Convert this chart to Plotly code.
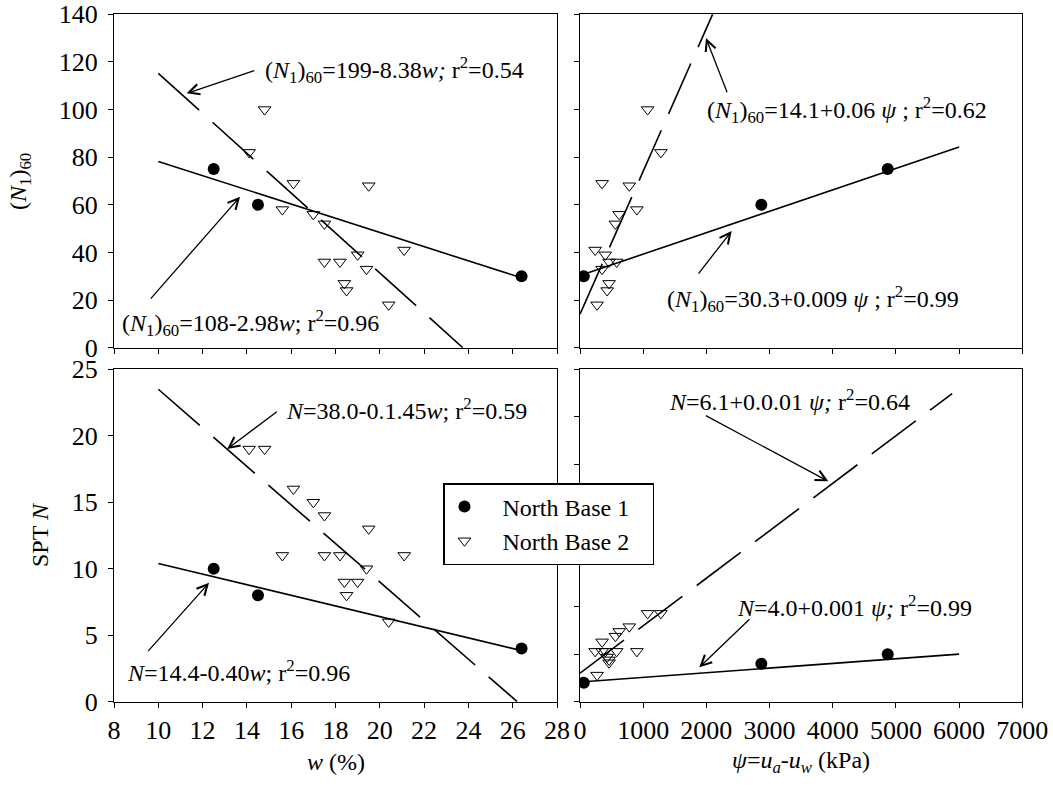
import numpy as np
import plotly.graph_objects as go

# -----------------------------------------------------------------------------
# Data
# -----------------------------------------------------------------------------

# North Base 1
w_nb1 = [12.5, 14.5, 26.4]
n160_nb1 = [75, 60, 30]
n_nb1 = [10, 8, 4]
psi_nb1 = [4870, 2870, 60]
n_psi_nb1 = [5.0, 4.0, 2.0]

# North Base 2
w_nb2 = [14.8, 14.1, 16.1, 19.5, 15.6, 17.0, 17.5, 21.1, 19.0, 17.5, 18.2, 19.4, 18.4, 18.5, 20.4]
n160_nb2 = [100, 82, 69, 68, 58, 56, 52, 41, 39, 36, 36, 33, 27, 24, 18]
n_nb2 = [19, 19, 16, 13, 11, 15, 14, 11, 9, 11, 11, 10, 9, 8, 6]
psi_nb2 = [1070, 1280, 350, 780, 900, 620, 560, 240, 400, 460, 580, 350, 460, 430, 270]
n_psi_nb2 = [9.3, 9.3, 6.3, 7.9, 5.3, 7.4, 6.9, 5.3, 5.3, 4.4, 5.3, 5.3, 4.1, 4.7, 2.8]

# regression lines: intercept, slope, x-start, x-end
fit_w_n160_nb1 = [108, -2.98, 10, 26.4]
fit_w_n160_nb2 = [199, -8.38, 10, 23.75]
fit_psi_n160_nb1 = [30.3, 0.009, 60, 6000]
fit_psi_n160_nb2 = [14.1, 0.06, 0, 2100]
fit_w_n_nb1 = [14.4, -0.40, 10, 26.4]
fit_w_n_nb2 = [38.0, -1.45, 10, 26.2]
fit_psi_n_nb1 = [2.07, 0.00049, 60, 6000]
fit_psi_n_nb2 = [3.0, 0.005, 0, 5890]

x_ticks_w = list(range(8, 29, 2))
x_ticks_psi = list(range(0, 7001, 1000))

FONT = "Liberation Serif"
FS = 24
TICK_FS = 26
W, H = 1053, 792


def px(x):
    return x / W


def py(y):
    return 1 - y / H


# -----------------------------------------------------------------------------
# Figure
# -----------------------------------------------------------------------------

fig = go.Figure()

circle = dict(symbol="circle", size=12, color="black")
tri = dict(symbol="triangle-down-open", size=11, color="black", line=dict(width=1, color="black"))

panels = [
    ("x", "y", w_nb1, n160_nb1, w_nb2, n160_nb2, fit_w_n160_nb1, fit_w_n160_nb2),
    ("x2", "y2", psi_nb1, n160_nb1, psi_nb2, n160_nb2, fit_psi_n160_nb1, fit_psi_n160_nb2),
    ("x3", "y3", w_nb1, n_nb1, w_nb2, n_nb2, fit_w_n_nb1, fit_w_n_nb2),
    ("x4", "y4", psi_nb1, n_psi_nb1, psi_nb2, n_psi_nb2, fit_psi_n_nb1, fit_psi_n_nb2),
]

for i, (xa, ya, x1, y1, x2, y2, f1, f2) in enumerate(panels):
    for f, dash in ((f1, "solid"), (f2, "55px,18px")):
        xs = np.array([f[2], f[3]])
        fig.add_trace(go.Scatter(x=xs, y=f[0] + f[1] * xs, mode="lines", xaxis=xa, yaxis=ya,
                                 line=dict(color="black", width=1.6, dash=dash),
                                 showlegend=False, hoverinfo="skip"))
    fig.add_trace(go.Scatter(x=x2, y=y2, mode="markers", xaxis=xa, yaxis=ya, marker=tri,
                             name="\u00a0\u00a0\u00a0North Base 2\u00a0\u00a0\u00a0",
                             showlegend=(i == 2), legendrank=2))
    fig.add_trace(go.Scatter(x=x1, y=y1, mode="markers", xaxis=xa, yaxis=ya, marker=circle,
                             name="\u00a0\u00a0\u00a0North Base 1\u00a0\u00a0\u00a0",
                             showlegend=(i == 2), legendrank=1))

axis_common = dict(showline=True, linecolor="black", linewidth=1, mirror=True,
                   ticks="outside", ticklen=5, tickcolor="black", showgrid=False,
                   zeroline=False, automargin=False, ticklabeloverflow="allow",
                   tickfont=dict(family=FONT, size=TICK_FS, color="black"))

left_dom = [px(114), px(557)]
right_dom = [px(580), px(1022.3)]
top_dom = [py(347.7), py(14.3)]
bot_dom = [py(701.7), py(369.3)]

fig.update_layout(
    xaxis=dict(domain=left_dom, range=[8, 28], tickvals=x_ticks_w, showticklabels=False, anchor="y", **axis_common),
    yaxis=dict(domain=top_dom, range=[0, 140], dtick=20, anchor="x", ticklabelstandoff=5, **axis_common),
    xaxis2=dict(domain=right_dom, range=[0, 7000], tickvals=x_ticks_psi, showticklabels=False, anchor="y2", **axis_common),
    yaxis2=dict(domain=top_dom, range=[0, 140], dtick=20, showticklabels=False, anchor="x2", **axis_common),
    xaxis3=dict(domain=left_dom, range=[8, 28], tickvals=x_ticks_w, anchor="y3", **axis_common),
    yaxis3=dict(domain=bot_dom, range=[0, 25], dtick=5, anchor="x3", ticklabelstandoff=5, **axis_common),
    xaxis4=dict(domain=right_dom, range=[0, 7000], tickvals=x_ticks_psi, anchor="y4", **axis_common),
    yaxis4=dict(domain=bot_dom, range=[0, 35], dtick=5, showticklabels=False, anchor="x4", **axis_common),
)

# equation labels
labels = [
    (262.7, 70, "(<i>N</i><sub>1</sub>)<sub>60</sub>=199-8.38<i>w; </i>r<sup>2</sup>=0.54"),
    (120, 322.7, "(<i>N</i><sub>1</sub>)<sub>60</sub>=108-2.98<i>w</i>; r<sup>2</sup>=0.96"),
    (705, 110, "(<i>N</i><sub>1</sub>)<sub>60</sub>=14.1+0.06<i> ψ </i>; r<sup>2</sup>=0.62"),
    (665, 299.3, "(<i>N</i><sub>1</sub>)<sub>60</sub>=30.3+0.009<i> ψ </i>; r<sup>2</sup>=0.99"),
    (284, 409, "<i>N</i>=38.0-0.1.45<i>w</i>; r<sup>2</sup>=0.59"),
    (125, 670.7, "<i>N</i>=14.4-0.40<i>w</i>; r<sup>2</sup>=0.96"),
    (666.7, 400, "<i>N</i>=6.1+0.0.01<i> ψ; </i>r<sup>2</sup>=0.64"),
    (735, 606, "<i>N</i>=4.0+0.001<i> ψ; </i>r<sup>2</sup>=0.99"),
]
for lx, ly, txt in labels:
    fig.add_annotation(x=px(lx), y=py(ly), xref="paper", yref="paper", text=txt,
                       showarrow=False, xanchor="left", yanchor="middle",
                       font=dict(family=FONT, size=FS, color="black"))

# arrows: tail (ax, ay) -> tip (x, y) in data units of each panel
arrows = [
    ("x", "y", 14.40, 116.6, 11.28, 106.8),
    ("x", "y", 9.6, 20.0, 13.69, 63.4),
    ("x2", "y2", 2337, 106.6, 1994, 130.0),
    ("x2", "y2", 1857, 30.5, 2400, 49.0),
    ("x3", "y3", 15.42, 21.9, 13.11, 19.0),
    ("x3", "y3", 9.48, 3.69, 12.29, 8.95),
    ("x4", "y4", 1968, 30.2, 3930, 23.2),
    ("x4", "y4", 2706, 8.84, 1888, 3.62),
]
for xa, ya, tx, ty, hx, hy in arrows:
    fig.add_annotation(x=hx, y=hy, ax=tx, ay=ty, xref=xa, yref=ya, axref=xa, ayref=ya,
                       text="", showarrow=True, arrowhead=5, arrowsize=1.6,
                       arrowwidth=1.3, arrowcolor="black")

# axis titles
titles = [
    (335.5, 762, 0, "<i>w</i> (%)"),
    (801, 762, 0, "<i>ψ</i>=<i>u<sub>a</sub></i>-<i>u<sub>w</sub></i> (kPa)"),
    (20, 182, -90, "(<i>N</i><sub>1</sub>)<sub>60</sub>"),
    (40, 535, -90, "SPT <i>N</i>"),
]
for tx, ty, ang, txt in titles:
    fig.add_annotation(x=px(tx), y=py(ty), xref="paper", yref="paper", text=txt,
                       showarrow=False, textangle=ang, xanchor="center", yanchor="middle",
                       font=dict(family=FONT, size=FS, color="black"))

fig.update_layout(
    width=W, height=H,
    margin=dict(l=0, r=0, t=0, b=0, autoexpand=False),
    paper_bgcolor="white", plot_bgcolor="white",
    font=dict(family=FONT, size=FS, color="black"),
    legend=dict(x=px(443), y=py(483), xanchor="left", yanchor="top",
                bgcolor="white", bordercolor="black", borderwidth=1.5,
                font=dict(family=FONT, size=FS, color="black"),
                tracegroupgap=0, itemsizing="trace"),
)

# drop the default page margin so the figure sits at the window's corner
fig.write_html("out.html", config={"displayModeBar": False},
               post_script="document.body.style.margin='0';")
